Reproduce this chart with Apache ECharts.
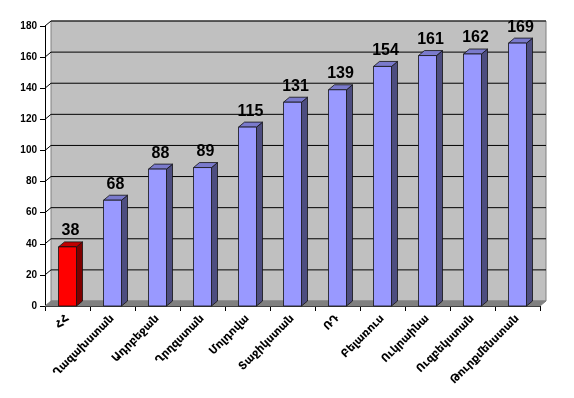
<!DOCTYPE html>
<html>
<head>
<meta charset="utf-8">
<script src="https://cdn.jsdelivr.net/npm/echarts@6/dist/echarts.min.js"></script>
<style>
html,body{margin:0;padding:0;background:#fff;}
#c{width:574px;height:398px;}
</style>
</head>
<body>
<div id="c"></div>
<script>
const categories = ['ՀՀ','Ղազախստան','Ադրբեջան','Ղրղզստան','Մոլդովա','Տաջիկստան','ՌԴ','Բելառուս','Ուկրաինա','Ուզբեկստան','Թուրքմենստան'];
const values = [38,68,88,89,115,131,139,154,161,162,169];
const highlightIndex = [0];
const yTicks = [0,20,40,60,80,100,120,140,160,180];

const DX = 6, DY = 5;
const chart = echarts.init(document.getElementById('c'), null, {renderer:'canvas'});

function wallItem(params, api) {
  const cs = params.coordSys;
  const v = api.value(1);
  const y = api.coord([0, v])[1];
  const children = [];
  if (v === 0) {
    children.push({type:'rect', shape:{x:cs.x+DX, y:cs.y-DY, width:cs.width, height:cs.height},
      style:{fill:'#C0C0C0', stroke:'#808080', lineWidth:1}});
    children.push({type:'polygon', shape:{points:[[cs.x, y],[cs.x+DX, y-DY],[cs.x+cs.width+DX, y-DY],[cs.x+cs.width, y]]},
      style:{fill:'#808080', stroke:'#808080', lineWidth:1}});
  } else {
    children.push({type:'line', shape:{x1:cs.x, y1:y, x2:cs.x+DX, y2:y-DY}, style:{stroke:'#000', lineWidth:1}});
    children.push({type:'line', shape:{x1:cs.x+DX, y1:y-DY, x2:cs.x+cs.width+DX, y2:y-DY}, style:{stroke:'#000', lineWidth:1}});
  }
  return {type:'group', children};
}

function barItem(params, api) {
  const i = api.value(0), v = api.value(1);
  const top = api.coord([i, v]);
  const base = api.coord([i, 0]);
  const bw = api.size([1, 0])[0];
  const w = bw * 0.4;
  const x0 = top[0] - w / 2;
  const y1 = top[1], y0 = base[1];
  const red = highlightIndex.indexOf(i) >= 0;
  const front = red ? '#FF0000' : '#9999FF';
  const side = red ? '#800000' : '#4D4D80';
  const topc = red ? '#C00000' : '#7A7ACC';
  const st = {stroke:'#111', lineWidth:0.8};
  return {type:'group', children:[
    {type:'polygon', shape:{points:[[x0+w, y1],[x0+w+DX, y1-DY],[x0+w+DX, y0-DY],[x0+w, y0]]}, style:Object.assign({fill:side}, st)},
    {type:'polygon', shape:{points:[[x0, y1],[x0+DX, y1-DY],[x0+w+DX, y1-DY],[x0+w, y1]]}, style:Object.assign({fill:topc}, st)},
    {type:'rect', shape:{x:x0, y:y1, width:w, height:y0-y1}, style:Object.assign({fill:front}, st)},
    {type:'text', style:{text:String(v), x:x0+(w+DX)/2, y:y1-8, align:'center', verticalAlign:'bottom',
      font:'bold 16px Arial, "Liberation Sans", sans-serif', fill:'#000'}}
  ]};
}

chart.setOption({
  backgroundColor:'#fff',
  animation:false,
  grid:{left:45, right:34, top:26, bottom:92, containLabel:false},
  xAxis:{type:'category', data:categories,
    axisLine:{show:true, lineStyle:{color:'#000', width:1}},
    axisTick:{show:true, length:5, lineStyle:{color:'#000'}},
    axisLabel:{rotate:45, margin:11, color:'#000', fontSize:11, fontWeight:'bold', fontFamily:'"DejaVu Sans", sans-serif', interval:0},
    splitLine:{show:false}},
  yAxis:{type:'value', min:0, max:180, interval:20,
    axisLine:{show:true, lineStyle:{color:'#000', width:1}},
    axisTick:{show:true, length:5, lineStyle:{color:'#000'}},
    axisLabel:{margin:8, color:'#000', fontSize:10, fontWeight:'bold', fontFamily:'Arial, "Liberation Sans", sans-serif'},
    splitLine:{show:false}},
  series:[
    {type:'custom', z:1, renderItem:wallItem, data:yTicks.map(t => [0, t]), silent:true},
    {type:'custom', z:2, renderItem:barItem, data:values.map((v, i) => [i, v])}
  ]
});
</script>
</body>
</html>
